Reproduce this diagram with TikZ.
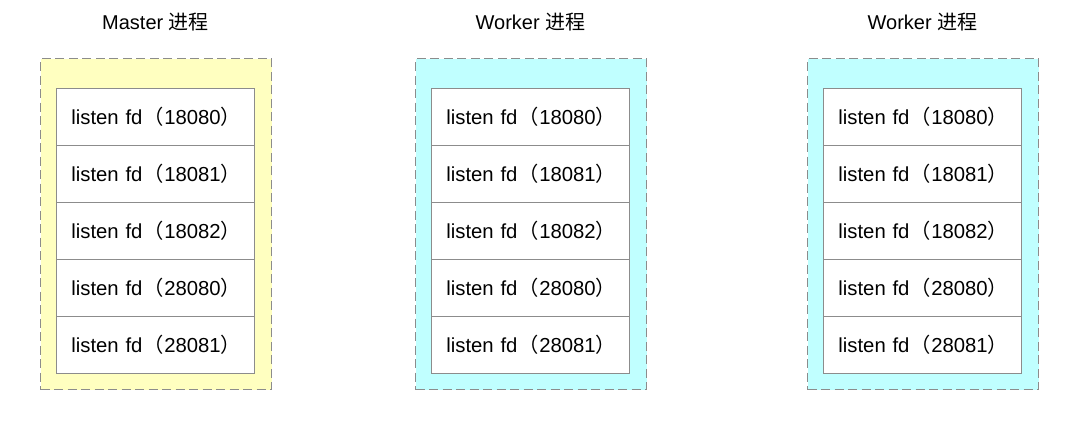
\documentclass[tikz,border=0pt]{standalone}
\usepackage{fontspec}
\setmainfont{Liberation Sans}
\newfontfamily\cjk{Noto Sans CJK SC}
\definecolor{ylw}{HTML}{FFFFC0}
\definecolor{cyn}{HTML}{C0FFFF}
\definecolor{edge}{HTML}{8C8C8C}
\begin{document}
\begin{tikzpicture}[x=1pt,y=-1pt,
  container/.style={draw=edge, line width=1pt, dash pattern=on 9pt off 4.5pt, minimum width=231, minimum height=331, inner sep=0pt, anchor=north west},
  rowbox/.style={draw=edge, fill=white, line width=0.8pt, text width=168, inner xsep=15, inner ysep=0, minimum height=57, align=left, anchor=north west, font=\fontsize{20.3}{23}\selectfont},
  titletext/.style={font=\fontsize{20}{23}\selectfont}]
\useasboundingbox (0,0) rectangle (1080,432);
\fill[white] (0,0) rectangle (1080,432);
\foreach \nm/\L/\col/\ttl in {m/40/ylw/Master, a/415/cyn/Worker, b/807/cyn/Worker} {
  \node[container, fill=\col] (\nm) at (\L,58) {};
  \node[titletext] (\nm t) at (\L+115.5,22) {\ttl\ {\cjk 进程}};
  \foreach \p [count=\i from 0] in {18080,18081,18082,28080,28081} {
    \node[rowbox] (\nm r\i) at (\L+16,88+57*\i) {\mbox{listen fd\hspace{1.5pt}{\cjk （}\p{\cjk ）}}};
  }
}
\end{tikzpicture}
\end{document}
